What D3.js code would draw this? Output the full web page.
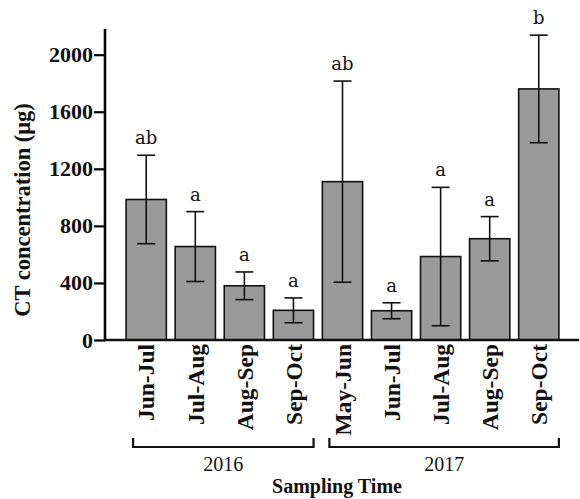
<!DOCTYPE html>
<html>
<head>
<meta charset="utf-8">
<script src="https://cdn.jsdelivr.net/npm/d3@7"></script>
<style>
  body { margin: 0; background: #fff; }
  text { font-family: "Liberation Serif", "Times New Roman", serif; fill: #111; }
</style>
</head>
<body>
<div id="chart"></div>
<script>
//////////////////////////////////////////////////////////////////////////////
// Data

var periods  = ["Jun-Jul", "Jul-Aug", "Aug-Sep", "Sep-Oct",
                "May-Jun", "Jun-Jul", "Jul-Aug", "Aug-Sep", "Sep-Oct"];
var yearOf   = [0, 0, 0, 0, 1, 1, 1, 1, 1];
var years    = ["2016", "2017"];
var means    = [985, 655, 380, 208, 1110, 205, 585, 710, 1760];
var errors   = [310, 245, 97, 87, 705, 56, 485, 155, 377];
var letters  = ["ab", "a", "a", "a", "ab", "a", "a", "a", "b"];
var yTicks   = [0, 400, 800, 1200, 1600, 2000];

var width = 580, height = 499;
var plotL = 105, plotR = 579, plotT = 29, plotB = 340;

var data = periods.map(function(p, i) {
    return { i: i, period: p, mean: means[i], err: errors[i], letter: letters[i], year: yearOf[i] };
});

var xScale = d3.scaleBand().domain(d3.range(periods.length))
    .range([plotL + 1, plotR]).paddingInner(0.18).paddingOuter(0.41);
var yScale = d3.scaleLinear().domain([0, 2180]).range([plotB, plotT]);

var svg = d3.select("#chart").append("svg")
    .attr("width", width)
    .attr("height", height);

//////////////////////////////////////////////////////////////////////////////
// Bars and error bars

svg.append("g")
    .selectAll("rect")
    .data(data)
    .enter()
    .append("rect")
    .attr("x", function(d) { return xScale(d.i); })
    .attr("y", function(d) { return yScale(d.mean); })
    .attr("width", xScale.bandwidth())
    .attr("height", function(d) { return yScale(0) - yScale(d.mean); })
    .attr("fill", "#9a9a9a")
    .attr("stroke", "#111")
    .attr("stroke-width", 1.6);

var cx = function(d) { return xScale(d.i) + xScale.bandwidth() / 2; };
var cap = 9;

var err = svg.append("g")
    .attr("stroke", "#111")
    .attr("stroke-width", 1.6)
    .selectAll("g")
    .data(data)
    .enter()
    .append("g");

err.append("line")
    .attr("x1", cx).attr("x2", cx)
    .attr("y1", function(d) { return yScale(d.mean + d.err); })
    .attr("y2", function(d) { return yScale(d.mean - d.err); });
err.append("line")
    .attr("x1", function(d) { return cx(d) - cap; })
    .attr("x2", function(d) { return cx(d) + cap; })
    .attr("y1", function(d) { return yScale(d.mean + d.err); })
    .attr("y2", function(d) { return yScale(d.mean + d.err); });
err.append("line")
    .attr("x1", function(d) { return cx(d) - cap; })
    .attr("x2", function(d) { return cx(d) + cap; })
    .attr("y1", function(d) { return yScale(d.mean - d.err); })
    .attr("y2", function(d) { return yScale(d.mean - d.err); });

// significance letters (wider serif, like the original)
svg.append("g")
    .selectAll("text")
    .data(data)
    .enter()
    .append("text")
    .attr("x", cx)
    .attr("y", function(d) { return yScale(d.mean + d.err) - 11; })
    .attr("text-anchor", "middle")
    .style("font-family", "'DejaVu Serif', serif")
    .style("font-size", "18px")
    .text(function(d) { return d.letter; });

//////////////////////////////////////////////////////////////////////////////
// Axes

var yAxis = svg.append("g")
    .attr("transform", "translate(" + plotL + ",0)")
    .call(d3.axisLeft(yScale).tickValues(yTicks).tickSize(11).tickPadding(1).tickFormat(d3.format("d")));
yAxis.select(".domain").attr("stroke-width", 2.6).attr("d", "M0," + plotT + "V" + plotB);
yAxis.selectAll(".tick line").attr("stroke-width", 2.2);
yAxis.selectAll(".tick text")
    .style("font-size", "22px")
    .style("font-weight", "bold")
    .attr("fill", "#111");

svg.append("line")
    .attr("x1", plotL - 1).attr("x2", plotR)
    .attr("y1", plotB).attr("y2", plotB)
    .attr("stroke", "#111")
    .attr("stroke-width", 2.4);

svg.append("g")
    .selectAll("text")
    .data(data)
    .enter()
    .append("text")
    .attr("transform", function(d) { return "translate(" + cx(d) + "," + (plotB + 4) + ") rotate(-90)"; })
    .attr("text-anchor", "end")
    .attr("dy", "0.35em")
    .style("font-size", "23.5px")
    .style("font-weight", "bold")
    .text(function(d) { return d.period; });

// Year brackets
var brackets = years.map(function(y, k) {
    var idx = data.filter(function(d) { return d.year === k; });
    return {
        label: y,
        x0: xScale(idx[0].i) + 7,
        x1: xScale(idx[idx.length - 1].i) + xScale.bandwidth()
    };
});

var br = svg.append("g")
    .selectAll("g")
    .data(brackets)
    .enter()
    .append("g");

br.append("path")
    .attr("d", function(b) { return "M" + b.x0 + ",438V447H" + b.x1 + "V438"; })
    .attr("fill", "none")
    .attr("stroke", "#111")
    .attr("stroke-width", 2.2);

br.append("text")
    .attr("x", function(b) { return (b.x0 + b.x1) / 2; })
    .attr("y", 471)
    .attr("text-anchor", "middle")
    .style("font-size", "20px")
    .text(function(b) { return b.label; });

svg.append("text")
    .attr("x", 337)
    .attr("y", 493)
    .attr("text-anchor", "middle")
    .style("font-size", "20px")
    .style("font-weight", "bold")
    .text("Sampling Time");

svg.append("text")
    .attr("transform", "translate(30,210) rotate(-90)")
    .attr("text-anchor", "middle")
    .style("font-size", "22.5px")
    .style("font-weight", "bold")
    .text("CT concentration (μg)");
</script>
</body>
</html>
